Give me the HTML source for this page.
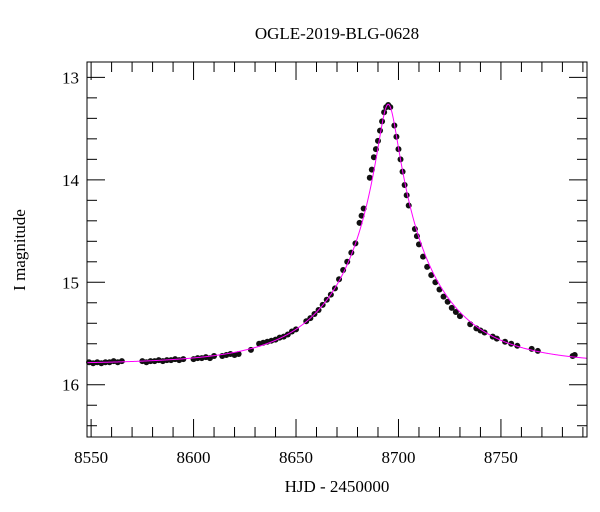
<!DOCTYPE html>
<html><head><meta charset="utf-8">
<style>
body{margin:0;background:#fff;}
svg{display:block;font-family:"Liberation Serif",serif;}
</style></head>
<body>
<svg id="chart" width="600" height="512" viewBox="0 0 600 512"></svg>
<script>
const obsTimes=[8549,8551,8553,8555,8557,8559,8561,8563,8565,
8575,8577,8579,8581,8583,8585,8587,8589,8591,8593,8595,
8600,8602,8604,8606,8608,8610,8614,8616,8618,8620,8622,8628,
8632,8634,8636,8638,8640,8642,8644,8646,8648,8650,
8655,8657,8659,8661,8663,8665,8667,8669,8671,8673,8675,8677,8679,8681,8682,8683,8686,8687,8688,8689,8690,8691,8692,8693,8694,8695,8696,
8698,8699,8700,8701,8702,8703,8704,8705,8708,8709,8710,8712,8714,8716,8718,8720,8722,8724,8726,8728,8730,8735,8738,8740,8742,8746,8748,8752,8755,8758,8765,8768,8785,8786];
const obsMags=[15.78,15.79,15.78,15.79,15.78,15.78,15.77,15.78,15.77,
15.77,15.78,15.77,15.77,15.76,15.77,15.76,15.76,15.75,15.76,15.75,
15.75,15.74,15.74,15.73,15.74,15.72,15.72,15.71,15.70,15.71,15.70,15.66,
15.60,15.59,15.58,15.57,15.56,15.54,15.53,15.51,15.48,15.46,
15.38,15.35,15.31,15.27,15.22,15.17,15.12,15.06,14.97,14.88,14.80,14.71,14.62,14.42,14.35,14.28,13.98,13.90,13.78,13.70,13.62,13.52,13.43,13.34,13.29,13.27,13.29,
13.47,13.58,13.70,13.80,13.92,14.05,14.15,14.25,14.48,14.55,14.63,14.75,14.85,14.93,15.00,15.07,15.14,15.19,15.25,15.29,15.33,15.41,15.45,15.47,15.49,15.53,15.55,15.58,15.60,15.62,15.65,15.67,15.72,15.71];
const modelT0=[8695];
const modelU0=[0.097];
const modelTE=[47];
const modelBase=[15.80];
const xTicks=[8550,8600,8650,8700,8750];
const yTicks=[13,14,15,16];

const L=87,R=587,T=62,B=437;
const xMin=8548,xMax=8792,yMin=12.85,yMax=16.51;
const X=t=>L+(t-xMin)/(xMax-xMin)*(R-L);
const Y=m=>T+(m-yMin)/(yMax-yMin)*(B-T);
const NS="http://www.w3.org/2000/svg";
const svg=document.getElementById('chart');
function mk(tag,attrs,parent){const e=document.createElementNS(NS,tag);for(const k in attrs)e.setAttribute(k,attrs[k]);(parent||svg).appendChild(e);return e;}

// title
let e=mk('text',{x:337,y:39,'text-anchor':'middle','font-size':17});e.textContent='OGLE-2019-BLG-0628';


e=mk('text',{x:337,y:492,'text-anchor':'middle','font-size':17});e.textContent='HJD - 2450000';


e=mk('text',{x:0,y:0,'text-anchor':'middle','font-size':17,transform:'translate(25,250) rotate(-90)'});e.textContent='I magnitude';



// ticks
const tg=mk('g',{stroke:'#000','stroke-width':1});


for(let t=8550;t<=xMax;t+=10){const big=(t%50===0);const len=big?18:10;const x=X(t);
 mk('line',{x1:x,y1:B,x2:x,y2:B-len},tg);mk('line',{x1:x,y1:T,x2:x,y2:T+len},tg);}
for(let k=0;k*0.2+12.8<=yMax+1e-6;k++){const m=12.8+k*0.2;if(m<yMin)continue;const big=Math.abs(m-Math.round(m))<1e-6;const len=big?18:10;const y=Y(m);
 mk('line',{x1:L,y1:y,x2:L+len,y2:y},tg);mk('line',{x1:R,y1:y,x2:R-len,y2:y},tg);}
xTicks.forEach(t=>{const el=mk('text',{x:X(t),y:463,'text-anchor':'middle','font-size':17});el.textContent=t;
 
 });
yTicks.forEach(m=>{const el=mk('text',{x:79,y:Y(m)+6,'text-anchor':'end','font-size':17});el.textContent=m;
 
 });

// data points
const pg=mk('g',{fill:'#111'});


obsTimes.forEach((t,i)=>{const c=mk('circle',{cx:X(t),cy:Y(obsMags[i]),r:3},pg);
 
 });

// model curve
let d='';
for(let t=xMin;t<=xMax;t+=0.25){const tau=(t-modelT0[0])/modelTE[0];const u=Math.sqrt(tau*tau+modelU0[0]*modelU0[0]);
 const A=(u*u+2)/(u*Math.sqrt(u*u+4));const m=modelBase[0]-2.5*Math.log10(A);
 d+=(d?'L':'M')+X(t).toFixed(2)+','+Y(m).toFixed(2);}
const p=mk('path',{d:d,fill:'none',stroke:'#ff00ff','stroke-width':1});



const fr=mk('rect',{x:L,y:T,width:R-L,height:B-T,fill:'none',stroke:'#000','stroke-width':1});


</script>
</body></html>
